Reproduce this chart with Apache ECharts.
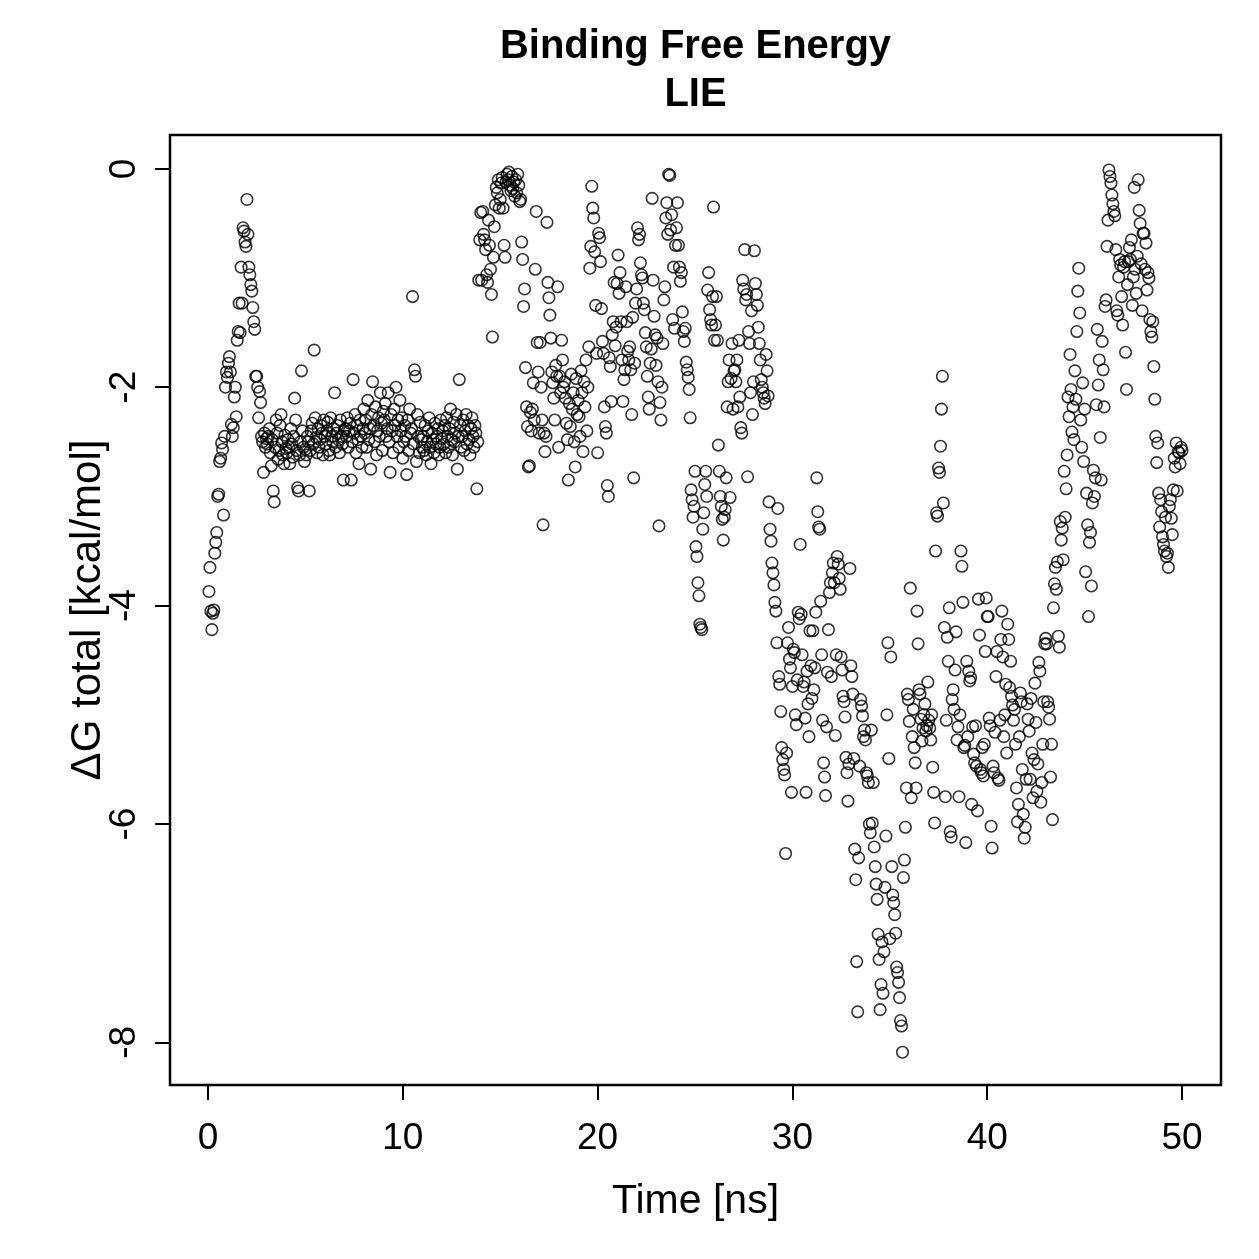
<!DOCTYPE html>
<html>
<head>
<meta charset="utf-8">
<title>Binding Free Energy - LIE</title>
<script src="https://cdn.jsdelivr.net/npm/echarts@6/dist/echarts.min.js"></script>
<style>
  html, body { margin: 0; padding: 0; background: #fff; }
  #chart { width: 1259px; height: 1259px; }
</style>
</head>
<body>
<div id="chart"></div>
<script>
// frames are written every 0.05 ns, values in kcal/mol
var frameStep = 0.05;

var dG_00_10 = [
  -3.87, -3.65, -4.05, -4.22, -4.07, -4.04, -3.52, -3.42, -3.33, -3.00, -2.98, -2.68, -2.65, -2.51, -2.57, -3.17, -2.45, -2.00, -1.86, -1.91,
  -1.78, -1.72, -1.86, -2.34, -2.45, -2.37, -2.09, -2.00, -2.27, -1.57, -1.49, -1.23, -1.50, -0.90, -1.23, -0.54, -0.57, -0.67, -0.71, -0.28,
  -0.60, -0.90, -0.97, -1.06, -1.12, -1.27, -1.40, -1.47, -1.90, -1.90, -2.00, -2.28, -2.04, -2.14, -2.45, -2.50, -2.78, -2.42, -2.55, -2.47,
  -2.52, -2.45, -2.38, -2.60, -2.72, -2.48, -2.95, -3.05, -2.55, -2.30, -2.42, -2.66, -2.58, -2.35, -2.25, -2.50, -2.62, -2.70, -2.44, -2.56,
  -2.60, -2.48, -2.55, -2.70, -2.38, -2.52, -2.64, -2.45, -2.10, -2.30, -2.58, -2.92, -2.95, -2.62, -2.50, -1.85, -2.40, -2.55, -2.68, -2.57,
  -2.62, -2.45, -2.50, -2.95, -2.58, -2.40, -2.33, -2.52, -1.66, -2.28, -2.46, -2.60, -2.38, -2.55, -2.48, -2.35, -2.42, -2.62, -2.30, -2.45,
  -2.52, -2.40, -2.32, -2.58, -2.62, -2.28, -2.45, -2.50, -2.38, -2.05, -2.55, -2.42, -2.35, -2.48, -2.60, -2.30, -2.45, -2.52, -2.85, -2.40,
  -2.38, -2.45, -2.28, -2.55, -2.40, -2.33, -2.85, -2.50, -1.93, -2.42, -2.25, -2.60, -2.35, -2.48, -2.70, -2.30, -2.45, -2.55, -2.38, -2.20,
  -2.42, -2.30, -2.55, -2.12, -2.48, -2.38, -2.75, -2.25, -1.95, -2.35, -2.50, -2.18, -2.62, -2.40, -2.28, -2.45, -2.05, -2.33, -2.58, -2.22,
  -2.30, -2.15, -2.45, -2.38, -2.05, -2.50, -2.78, -2.25, -2.40, -2.60, -2.20, -2.35, -2.00, -2.45, -2.30, -2.55, -2.12, -2.40, -2.28, -2.65
];

var dG_10_20 = [
  -2.50, -2.35, -2.45, -2.80, -2.30, -2.58, -2.20, -2.42, -2.38, -1.17, -2.52, -1.84, -1.90, -2.68, -2.25, -2.45, -2.60, -2.32, -2.48, -2.55,
  -2.45, -2.58, -2.35, -2.62, -2.50, -2.40, -2.28, -2.55, -2.70, -2.42, -2.48, -2.60, -2.33, -2.52, -2.45, -2.38, -2.62, -2.55, -2.30, -2.47,
  -2.40, -2.52, -2.35, -2.60, -2.28, -2.45, -2.55, -2.38, -2.20, -2.48, -2.62, -2.32, -2.50, -2.42, -2.25, -2.75, -2.45, -1.93, -2.35, -2.55,
  -2.45, -2.30, -2.58, -2.40, -2.25, -2.52, -2.35, -2.48, -2.62, -2.38, -2.28, -2.45, -2.55, -2.35, -2.42, -2.93, -2.50, -1.02, -0.65, -0.40,
  -1.02, -0.39, -0.60, -0.65, -0.74, -0.97, -1.04, -0.47, -0.70, -0.92, -1.15, -1.54, -0.81, -0.53, -0.33, -0.17, -0.22, -0.10, -0.36, -0.28,
  -0.13, -0.08, -0.36, -0.70, -0.81, -0.12, -0.05, -0.10, -0.03, -0.15, -0.20, -0.07, -0.18, -0.12, -0.25, -0.10, -0.22, -0.05, -0.15, -0.30,
  -0.28, -0.67, -0.83, -1.26, -1.10, -1.82, -2.18, -2.36, -2.73, -2.72, -2.23, -2.40, -2.20, -1.96, -2.30, -0.92, -0.39, -1.59, -1.86, -2.42,
  -1.59, -2.00, -2.30, -3.26, -2.42, -2.59, -2.45, -0.49, -1.04, -1.18, -1.34, -1.55, -1.86, -1.96, -2.10, -2.30, -1.80, -1.90, -1.08, -2.55,
  -1.90, -2.05, -1.57, -1.75, -2.00, -1.95, -2.10, -2.33, -2.48, -2.85, -2.15, -2.36, -1.88, -2.20, -2.05, -2.50, -2.73, -1.92, -2.25, -2.12,
  -2.27, -2.45, -1.85, -2.05, -2.59, -1.95, -2.18, -1.75, -2.40, -2.00, -1.63, -0.91, -0.71, -0.16, -0.36, -0.45, -0.76, -1.25, -1.69, -2.60
];

var dG_20_30 = [
  -0.59, -0.63, -0.85, -1.28, -1.58, -1.69, -2.18, -2.36, -2.42, -2.90, -3.00, -1.73, -1.81, -2.13, -1.52, -1.40, -1.04, -1.62, -1.45, -1.05,
  -0.79, -1.14, -0.95, -1.40, -1.75, -2.13, -1.93, -1.84, -1.08, -1.40, -1.67, -1.75, -1.63, -1.84, -2.25, -1.36, -2.83, -1.78, -1.23, -1.10,
  -0.54, -0.65, -0.60, -0.86, -0.97, -1.00, -1.23, -1.29, -1.50, -1.63, -1.90, -2.09, -2.20, -1.78, -1.65, -0.27, -1.02, -1.35, -1.52, -1.80,
  -1.55, -1.95, -3.27, -2.14, -2.30, -2.00, -1.60, -1.20, -1.08, -0.45, -0.31, -0.60, -0.05, -0.06, -0.56, -0.42, -1.38, -0.90, -1.46, -0.70,
  -0.54, -0.31, -0.70, -0.90, -1.03, -0.95, -1.31, -1.49, -1.58, -1.46, -1.77, -1.84, -1.91, -2.02, -2.28, -2.94, -3.03, -3.19, -3.09, -2.77,
  -3.46, -3.55, -3.79, -3.91, -4.17, -4.20, -4.22, -3.30, -3.15, -2.89, -2.77, -3.00, -1.11, -0.95, -1.29, -1.38, -1.43, -1.17, -0.35, -1.57,
  -1.43, -1.17, -1.57, -2.53, -2.77, -3.00, -3.09, -3.21, -3.40, -3.19, -3.12, -2.83, -2.18, -1.95, -1.75, -3.01, -1.92, -1.60, -2.20, -1.85,
  -1.84, -1.95, -1.75, -2.18, -1.57, -2.09, -2.37, -2.42, -1.02, -1.10, -0.74, -1.20, -1.15, -2.82, -1.49, -1.60, -2.05, -1.30, -2.25, -1.95,
  -0.75, -1.05, -1.15, -1.25, -1.45, -1.60, -1.75, -1.93, -2.00, -2.05, -2.10, -2.15, -1.70, -1.85, -2.08, -3.05, -3.30, -3.41, -3.61, -3.70,
  -3.81, -3.97, -4.05, -4.34, -3.11, -4.65, -4.72, -4.97, -5.30, -5.41, -5.50, -5.55, -6.27, -5.35, -4.34, -4.20, -4.49, -4.57, -5.71, -4.74
];

var dG_30_40 = [
  -4.40, -4.43, -5.00, -5.09, -4.68, -4.06, -4.12, -3.44, -4.08, -4.45, -4.74, -4.70, -5.03, -5.71, -4.60, -4.90, -5.20, -4.23, -4.55, -4.85,
  -4.23, -4.77, -4.57, -4.06, -2.83, -3.14, -3.28, -3.30, -3.96, -4.45, -5.05, -5.44, -5.57, -5.74, -5.11, -4.61, -4.22, -3.88, -3.79, -4.65,
  -3.70, -3.61, -3.79, -5.19, -4.45, -3.55, -3.62, -3.75, -3.85, -4.47, -4.59, -4.83, -4.88, -5.02, -5.39, -5.53, -5.79, -5.45, -3.66, -4.55,
  -4.65, -4.81, -5.40, -6.23, -6.51, -7.26, -7.72, -6.31, -5.47, -4.86, -4.92, -5.01, -5.20, -5.14, -5.23, -5.53, -5.56, -5.62, -6.00, -6.08,
  -5.14, -5.99, -5.62, -6.21, -6.39, -6.55, -6.69, -7.01, -7.24, -7.70, -7.47, -7.08, -7.55, -7.17, -6.58, -6.11, -5.00, -4.34, -5.40, -7.05,
  -4.47, -6.39, -6.65, -6.72, -6.83, -7.00, -7.31, -7.36, -7.45, -7.59, -7.80, -7.85, -8.09, -6.49, -6.33, -6.03, -5.67, -4.81, -4.86, -5.06,
  -3.84, -5.76, -5.20, -4.95, -5.30, -5.44, -5.67, -4.05, -4.35, -4.77, -4.81, -5.04, -5.24, -5.12, -5.00, -4.90, -5.15, -5.10, -4.70, -5.05,
  -5.12, -5.23, -5.00, -5.48, -5.71, -5.99, -3.50, -3.15, -3.18, -2.74, -2.78, -2.54, -2.20, -1.90, -3.06, -4.20, -5.75, -5.05, -4.29, -4.51,
  -4.02, -6.07, -6.12, -4.86, -4.77, -4.95, -4.59, -4.24, -5.23, -5.11, -5.75, -5.00, -3.50, -3.64, -3.97, -5.30, -5.28, -6.17, -4.51, -5.20,
  -4.60, -4.69, -4.66, -5.82, -5.11, -5.36, -5.44, -5.10, -5.47, -5.88, -3.94, -4.27, -5.50, -5.53, -5.30, -5.56, -5.27, -4.42, -3.93, -4.10
];

var dG_40_50 = [
  -4.10, -5.03, -5.10, -6.02, -6.22, -5.47, -5.53, -5.16, -4.65, -4.42, -5.58, -5.60, -5.05, -4.31, -4.05, -4.47, -5.20, -5.00, -4.72, -5.35,
  -4.17, -4.31, -4.75, -4.51, -4.83, -4.91, -5.05, -4.95, -5.27, -5.67, -5.98, -5.82, -5.20, -4.80, -4.88, -5.50, -5.91, -6.13, -6.03, -5.59,
  -4.90, -5.04, -5.15, -5.59, -4.85, -5.35, -5.76, -5.41, -4.71, -5.07, -5.70, -5.45, -4.52, -4.60, -5.80, -5.62, -5.27, -4.88, -4.35, -4.30,
  -4.35, -4.88, -4.93, -5.04, -5.57, -5.27, -5.96, -4.02, -3.80, -3.65, -3.85, -3.60, -4.28, -4.38, -3.23, -3.40, -3.29, -3.58, -2.77, -3.19,
  -2.93, -2.62, -2.09, -2.27, -1.70, -2.02, -2.41, -2.18, -2.48, -1.85, -2.11, -1.49, -1.12, -0.91, -1.32, -2.30, -2.55, -1.96, -2.68, -2.20,
  -3.69, -2.97, -3.26, -4.10, -3.42, -3.33, -3.82, -3.06, -2.76, -3.00, -2.83, -2.16, -1.47, -1.98, -1.75, -2.46, -2.85, -1.58, -1.84, -2.18,
  -1.26, -1.20, -0.71, -0.47, -0.01, -0.07, -0.13, -0.24, -0.32, -0.39, -0.43, -0.74, -1.30, -1.34, -0.99, -0.83, -0.88, -1.17, -1.43, -0.90,
  -0.85, -1.68, -2.02, -1.06, -0.85, -0.72, -0.83, -0.65, -1.25, -0.99, -0.17, -0.92, -1.14, -0.80, -0.10, -0.38, -0.50, -0.87, -1.30, -0.59,
  -0.59, -0.92, -0.68, -1.11, -0.95, -1.00, -1.38, -1.49, -1.54, -1.40, -1.81, -2.11, -2.45, -2.69, -2.51, -2.97, -3.28, -3.03, -3.14, -3.37,
  -3.44, -3.50, -3.19, -3.55, -3.52, -3.65, -3.09, -3.03, -3.20, -3.35, -2.94, -2.65, -2.73, -2.51, -2.95, -2.59, -2.60, -2.70, -2.55, -2.58
];

var xTicks = [0, 10, 20, 30, 40, 50];
var yTicks = [0, -2, -4, -6, -8];

var titleLines = ['Binding Free Energy', 'LIE'];
var xName = 'Time [ns]';
var yName = 'ΔG total [kcal/mol]';

var font = '"Liberation Sans", Arial, Helvetica, sans-serif';

var dG = dG_00_10.concat(dG_10_20, dG_20_30, dG_30_40, dG_40_50);
var points = dG.map(function (v, i) {
    return [Number(((i + 1) * frameStep).toFixed(2)), v];
});

var chart = echarts.init(document.getElementById('chart'), null, {renderer: 'canvas'});

var plotLeft = 170, plotTop = 135, plotW = 1051, plotH = 950;
var plotMidX = plotLeft + plotW / 2;

chart.setOption({
    animation: false,
    backgroundColor: '#ffffff',
    grid: {
        left: plotLeft,
        top: plotTop,
        width: plotW,
        height: plotH,
        show: true,
        borderColor: '#000',
        borderWidth: 2.5,
        backgroundColor: 'transparent'
    },
    xAxis: {
        type: 'value',
        position: 'bottom',
        min: -1.95,
        max: 52,
        axisLine: {show: false, onZero: false},
        splitLine: {show: false},
        axisTick: {
            show: true,
            customValues: xTicks,
            length: 15,
            lineStyle: {color: '#000', width: 2}
        },
        axisLabel: {
            customValues: xTicks,
            fontSize: 37,
            fontFamily: font,
            color: '#000',
            margin: 35
        }
    },
    yAxis: {
        type: 'value',
        position: 'left',
        min: -8.39,
        max: 0.31,
        axisLine: {show: false, onZero: false},
        splitLine: {show: false},
        axisTick: {
            show: true,
            customValues: yTicks,
            length: 15,
            lineStyle: {color: '#000', width: 2}
        },
        axisLabel: {
            customValues: yTicks,
            rotate: 90,
            fontSize: 37,
            fontFamily: font,
            color: '#000',
            margin: 27
        }
    },
    graphic: [
        {
            type: 'text', x: plotMidX, y: 47,
            style: {text: titleLines[0], fontSize: 40, fontWeight: 'bold', fontFamily: font,
                    fill: '#000', align: 'center', verticalAlign: 'middle'}
        },
        {
            type: 'text', x: plotMidX, y: 95,
            style: {text: titleLines[1], fontSize: 40, fontWeight: 'bold', fontFamily: font,
                    fill: '#000', align: 'center', verticalAlign: 'middle'}
        },
        {
            type: 'text', x: plotMidX, y: 1202,
            style: {text: xName, fontSize: 41, fontFamily: font,
                    fill: '#000', align: 'center', verticalAlign: 'middle'}
        },
        {
            type: 'text', x: 88, y: plotTop + plotH / 2, rotation: Math.PI / 2,
            style: {text: yName, fontSize: 42, fontFamily: font,
                    fill: '#000', align: 'center', verticalAlign: 'middle'}
        }
    ],
    series: [{
        type: 'scatter',
        data: points,
        symbol: 'circle',
        symbolSize: 11.5,
        silent: true,
        itemStyle: {
            color: 'rgba(0,0,0,0)',
            borderColor: '#000',
            borderWidth: 1.6
        }
    }]
});
</script>
</body>
</html>
